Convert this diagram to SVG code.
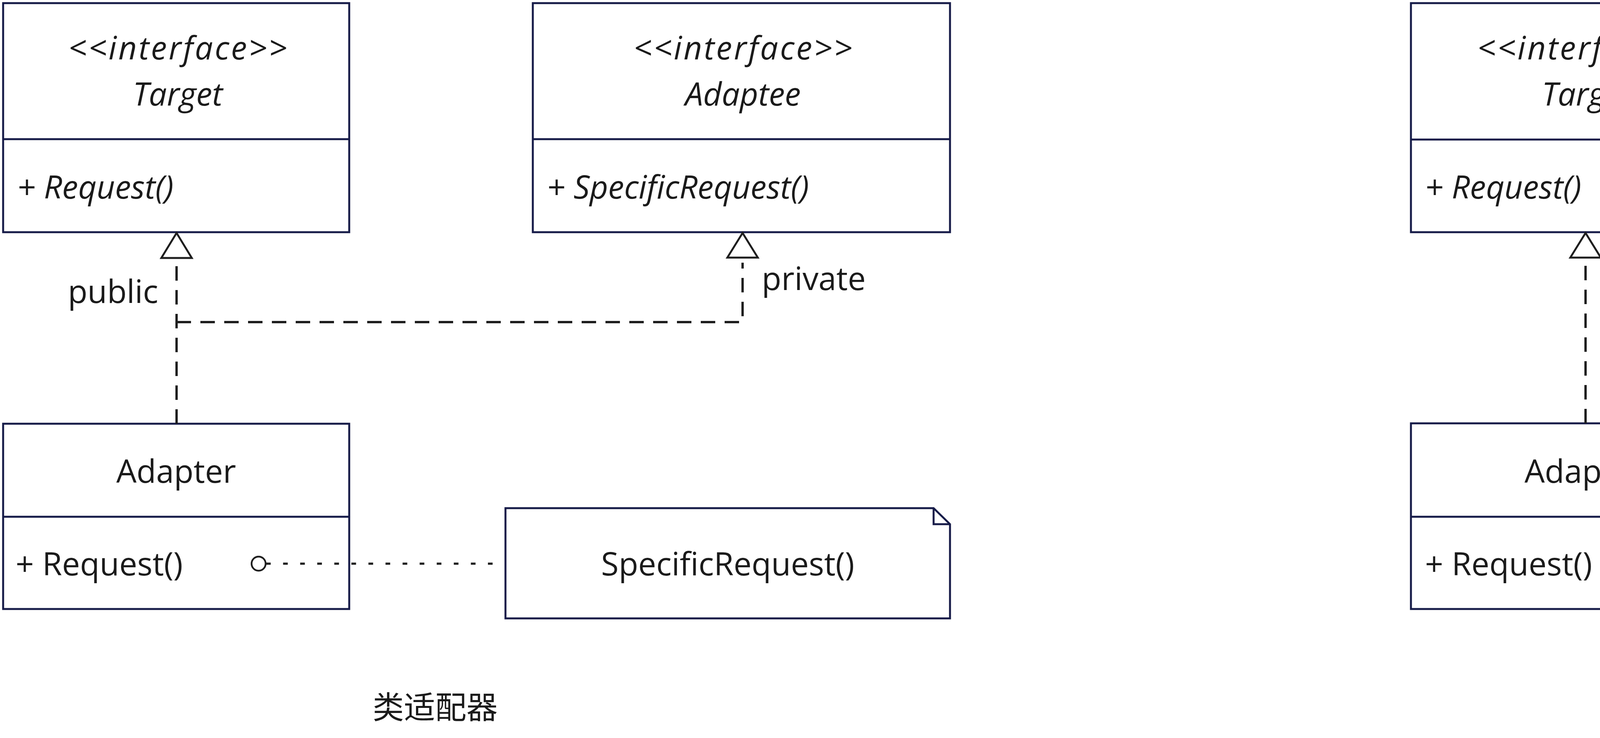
<svg xmlns="http://www.w3.org/2000/svg" width="6338" height="1888" viewBox="0 0 6338 1888">
<style>
.box{fill:#ffffff;stroke:#161b48;stroke-width:5;stroke-linejoin:miter}
.div{stroke:#161b48;stroke-width:5;fill:none}
.t{font-family:"Open Sans","Noto Sans","Liberation Sans",sans-serif;font-size:82px;fill:#1a1a1a}
.i{font-style:italic}
.c{text-anchor:middle}
.e{text-anchor:end}
.cjk{font-family:"Noto Sans CJK SC","Noto Sans",sans-serif;font-size:80px;fill:#1a1a1a;text-anchor:middle}
.dash{fill:none;stroke:#1e1e1e;stroke-width:6;stroke-dasharray:37 24}
.dot{fill:none;stroke:#1e1e1e;stroke-width:5.5;stroke-dasharray:12 31.7}
.solid{fill:none;stroke:#1e1e1e;stroke-width:5}
.tri{fill:#ffffff;stroke:#1e1e1e;stroke-width:5;stroke-linejoin:miter}
.dia{fill:#1e1e1e;stroke:#1e1e1e;stroke-width:3}
.ring{fill:#ffffff;stroke:#1e1e1e;stroke-width:4.5}
</style>

<g id="class-target-left">
  <rect class="box" x="8" y="8" width="886" height="586"/>
  <line class="div" x1="8" y1="356" x2="894" y2="356"/>
  <text class="t i c" x="455" y="152" textLength="560" lengthAdjust="spacing">&lt;&lt;interface&gt;&gt;</text>
  <text class="t i c" x="455" y="270">Target</text>
  <text class="t i" x="44" y="508">+ Request()</text>
</g>

<g id="interface-adaptee-left">
  <rect class="box" x="1364" y="8" width="1068" height="586"/>
  <line class="div" x1="1364" y1="356" x2="2432" y2="356"/>
  <text class="t i c" x="1902" y="152" textLength="560" lengthAdjust="spacing">&lt;&lt;interface&gt;&gt;</text>
  <text class="t i c" x="1902" y="270">Adaptee</text>
  <text class="t i" x="1400" y="508">+ SpecificRequest()</text>
</g>

<g id="class-adapter-left">
  <rect class="box" x="8" y="1084" width="886" height="474"/>
  <line class="div" x1="8" y1="1322" x2="894" y2="1322"/>
  <text class="t c" x="451" y="1235">Adapter</text>
  <text class="t" x="40" y="1472">+ Request()</text>
</g>

<g id="note-left">
  <path class="box" d="M1294,1300 H2390 L2432,1341 V1582 H1294 Z"/>
  <path class="div" d="M2390,1300 V1341 H2432"/>
  <text class="t c" x="1863" y="1472">SpecificRequest()</text>
</g>

<g id="caption-left">
  <text class="cjk" x="1114" y="1838">类适配器</text>
</g>

<g id="class-target-right">
  <rect class="box" x="3612" y="8" width="888" height="586"/>
  <line class="div" x1="3612" y1="357" x2="4500" y2="357"/>
  <text class="t i c" x="4062" y="152" textLength="560" lengthAdjust="spacing">&lt;&lt;interface&gt;&gt;</text>
  <text class="t i c" x="4062" y="270">Target</text>
  <text class="t i" x="3648" y="508">+ Request()</text>
</g>

<g id="class-adaptee-right">
  <rect class="box" x="5145" y="6" width="1067" height="475"/>
  <line class="div" x1="5145" y1="243" x2="6212" y2="243"/>
  <text class="t c" x="5678" y="157">Adaptee</text>
  <text class="t" x="5181" y="394">+ SpecificRequest()</text>
</g>

<g id="class-adapter-right">
  <rect class="box" x="3612" y="1083" width="888" height="475"/>
  <line class="div" x1="3612" y1="1322" x2="4500" y2="1322"/>
  <text class="t c" x="4056" y="1235">Adapter</text>
  <text class="t" x="3648" y="1472">+ Request()</text>
</g>

<g id="note-right">
  <path class="box" d="M4900,1300 H6289 L6331,1342 V1582 H4900 Z"/>
  <path class="div" d="M6289,1300 V1342 H6331"/>
  <text class="t c" x="5616" y="1472">adaptee-&gt;SpecificRequest()</text>
</g>

<g id="caption-right">
  <text class="cjk" x="4718" y="1838">对象适配器</text>
</g>

<g id="connectors">
  <path class="dash" d="M452,1084 V672"/>
  <path class="dash" d="M452,824 H1901 V672"/>
  <polygon class="tri" points="452,596 413,660 491,660"/>
  <polygon class="tri" points="1901,596 1862,659 1940,659"/>
  <text class="t e" x="405" y="775">public</text>
  <text class="t" x="1950" y="742">private</text>
  <path class="dot" d="M681,1442 H1264"/>
  <circle class="ring" cx="662" cy="1442" r="18"/>
  <path class="dash" d="M4059,1083 V672"/>
  <polygon class="tri" points="4059,596 4020,659 4098,659"/>
  <path class="solid" d="M5145,126 H4969 V1202 H4616"/>
  <polygon class="dia" points="4502,1202 4559,1169 4616,1202 4559,1235"/>
  <text class="t" x="4587" y="1157">adaptee</text>
  <path class="dot" d="M4288,1442 H4871"/>
  <circle class="ring" cx="4269" cy="1442" r="18"/>
</g>
</svg>
